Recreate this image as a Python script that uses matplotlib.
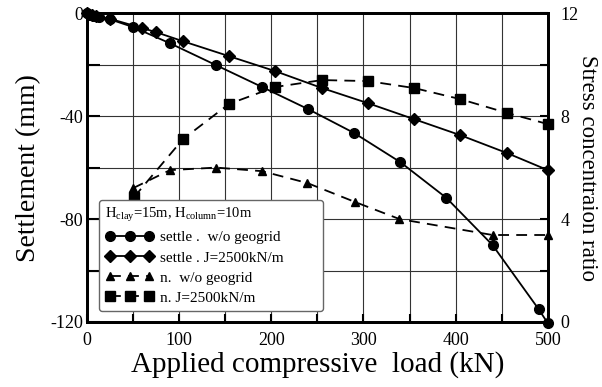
import matplotlib
matplotlib.use("Agg")
import matplotlib.pyplot as plt

plt.rcParams['font.family'] = ['Liberation Serif', 'DejaVu Serif']
plt.rcParams['mathtext.fontset'] = 'custom'
plt.rcParams['mathtext.rm'] = 'Liberation Serif'
plt.rcParams['mathtext.it'] = 'Liberation Serif:italic'

# settlement, no geogrid (circles)
load_a = [0, 3, 8, 13, 25, 50, 90, 140, 190, 240, 290, 340, 390, 440, 490, 500]
settle_a = [0, -0.7, -1.2, -1.6, -2.4, -5.4, -11.7, -20.2, -28.7, -37.3,
            -46.6, -57.9, -71.8, -90.1, -115.0, -120.5]

# settlement, J=2500kN/m (diamonds)
load_b = [0, 5, 10, 25, 60, 75, 104, 154, 204, 255, 305, 355, 405, 456, 500]
settle_b = [0, -0.6, -1.0, -2.2, -5.8, -7.4, -10.9, -16.7, -22.5, -29.1,
            -35.0, -41.2, -47.4, -54.4, -61.0]

# stress concentration ratio, no geogrid (triangles)
load_c = [50, 90, 140, 190, 239, 291, 339, 440, 500]
ratio_c = [5.2, 5.9, 6.0, 5.86, 5.4, 4.66, 4.0, 3.38, 3.38]

# stress concentration ratio, J=2500kN/m (squares)
load_d = [51, 104, 154, 204, 255, 305, 355, 405, 456, 500]
ratio_d = [4.85, 7.1, 8.47, 9.13, 9.4, 9.36, 9.09, 8.66, 8.12, 7.69]

x_ticks = list(range(0, 501, 50))
y_ticks = list(range(-120, 1, 20))
r_ticks = list(range(0, 13, 2))

fig = plt.figure(figsize=(6.02, 3.87), dpi=100)
ax = fig.add_axes([0.1445, 0.168, 0.7655, 0.798])
ax2 = ax.twinx()

l1, = ax.plot(load_a, settle_a, '-', color='k', lw=1.3, marker='o', ms=7,
              clip_on=False, zorder=3, label='settle .  w/o geogrid')
l2, = ax.plot(load_b, settle_b, '-', color='k', lw=1.3, marker='D', ms=6,
              clip_on=False, zorder=3, label='settle . J=2500kN/m')
l3, = ax2.plot(load_c, ratio_c, '--', color='k', lw=1.3, marker='^', ms=6,
               dashes=(6, 4), clip_on=False, label='n.  w/o geogrid')
l4, = ax2.plot(load_d, ratio_d, '--', color='k', lw=1.3, marker='s', ms=7,
               dashes=(6, 4), clip_on=False, label='n. J=2500kN/m')

ax.set_xlim(0, 500)
ax.set_ylim(-120, 0)
ax2.set_ylim(0, 12)

ax.set_xticks(x_ticks)
ax.set_xticklabels([str(v) if v % 100 == 0 else '' for v in x_ticks])
ax.set_yticks(y_ticks)
ax.set_yticklabels([str(v) if v % 40 == 0 else '' for v in y_ticks])
ax2.set_yticks(r_ticks)
ax2.set_yticklabels([str(v) if v % 4 == 0 else '' for v in r_ticks])

ax.grid(True, color='#333333', lw=0.8)
ax.set_axisbelow(True)

ax.tick_params(axis='x', direction='in', length=6, width=1.5, labelsize=13, pad=7)
ax.tick_params(axis='y', direction='in', length=9, width=1.5, labelsize=13, pad=3)
ax2.tick_params(axis='y', direction='in', length=6, width=1.5, labelsize=13, pad=9)
ax.tick_params(top=False)

for a in (ax, ax2):
    for s in a.spines.values():
        s.set_linewidth(2)

ax.set_xlabel('Applied compressive  load (kN)', fontsize=21, labelpad=2)
ax.set_ylabel('Settlement (mm)', fontsize=20, labelpad=6)
ax2.set_ylabel('Stress concentraion ratio', fontsize=16.5, rotation=-90, labelpad=14)

# legend box stretched to a fixed width, entries kept left
leg = ax2.legend(handles=[l1, l2, l3, l4], loc='lower left',
                 bbox_to_anchor=(0.026, 0.036, 0.486, 0.35), mode='expand',
                 borderaxespad=0, alignment='left',
                 title=r'H$_{\rm clay}$=15m, H$_{\rm column}$=10m',
                 title_fontsize=10.5, fontsize=11, numpoints=3,
                 handlelength=3.2, handletextpad=0.4, labelspacing=0.42,
                 fancybox=True, framealpha=1, edgecolor='#666666',
                 borderpad=0.4)
leg.get_frame().set_linewidth(1.0)

fig.savefig('out.png', dpi=100)
